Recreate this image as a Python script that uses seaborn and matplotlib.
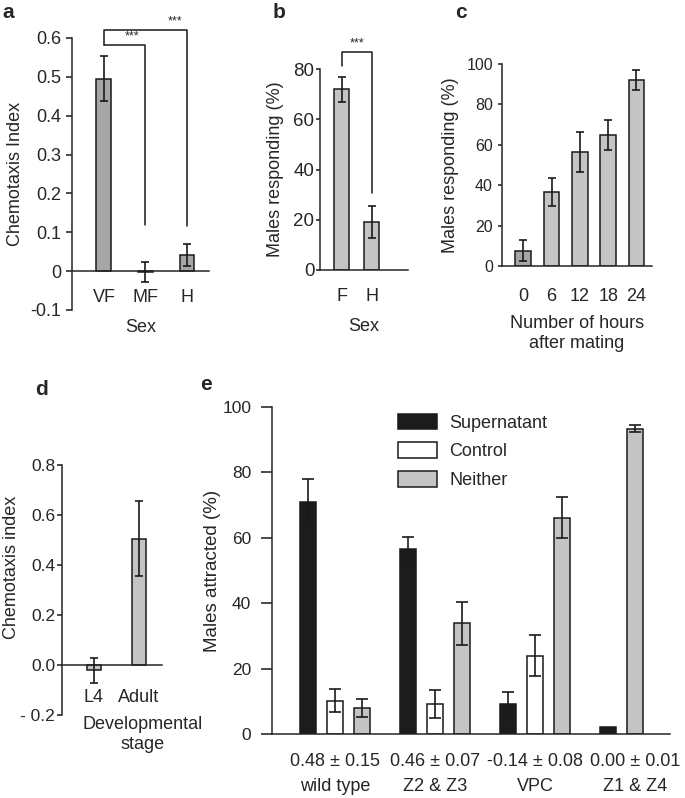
import numpy as np
import pandas as pd
import matplotlib
matplotlib.use("Agg")
import matplotlib.pyplot as plt
import seaborn as sns

# --- data ---
# a: chemotaxis index by sex
sex_a = ["VF", "MF", "H"]
ci_a = [0.495, -0.003, 0.042]
ci_a_err = [0.058, 0.026, 0.028]

# b: males responding by sex
sex_b = ["F", "H"]
resp_b = [72, 19]
resp_b_err = [5, 6.3]

# c: males responding vs hours after mating
hours_c = ["0", "6", "12", "18", "24"]
resp_c = [7.5, 36.5, 56.5, 65, 92]
resp_c_err = [5.2, 7, 10, 7.5, 4.8]

# d: chemotaxis index by developmental stage
stage_d = ["L4", "Adult"]
ci_d = [-0.02, 0.505]
ci_d_err = [0.05, 0.15]

# e: males attracted by ablation
groups_e = ["wild type", "Z2 & Z3", "VPC", "Z1 & Z4"]
ci_e = ["0.48 ± 0.15", "0.46 ± 0.07", "-0.14 ± 0.08", "0.00 ± 0.01"]
choices_e = ["Supernatant", "Control", "Neither"]
supernatant_e = [71, 56.7, 9.2, 2]
supernatant_err = [7, 3.5, 3.6, 0]
control_e = [10.2, 9.2, 24, np.nan]
control_err = [3.6, 4.3, 6.3, np.nan]
neither_e = [7.9, 33.8, 66.2, 93.4]
neither_err = [2.7, 6.5, 6.3, 1]

sns.set_style("ticks")
plt.rcParams["font.family"] = ["Liberation Sans", "DejaVu Sans"]
plt.rcParams["axes.linewidth"] = 1.1

DARK = "#a6a6a6"
LIGHT = "#c4c4c4"
EDGE = "#1a1a1a"

W, H = 685, 798
fig = plt.figure(figsize=(W / 100, H / 100), dpi=100)


def px_axes(left, top, right, bottom):
    return fig.add_axes([left / W, 1 - bottom / H, (right - left) / W, (bottom - top) / H])


def style(ax, ylim, yticks, yfont=13, xpad=13, ypad=3.5, ticklen=4):
    ax.set_ylim(*ylim)
    ax.set_yticks(yticks)
    ax.spines["top"].set_visible(False)
    ax.spines["right"].set_visible(False)
    ax.tick_params(axis="y", direction="out", length=ticklen, width=1.1,
                   labelsize=yfont, color=EDGE, pad=ypad)
    ax.tick_params(axis="x", length=0, labelsize=13, pad=xpad)


def errbars(ax, x, y, e, cap=3):
    ax.errorbar(x, y, yerr=e, fmt="none", ecolor=EDGE, elinewidth=1.2,
                capsize=cap, capthick=1.2, zorder=5)


# ---------------- a ----------------
ax = px_axes(72, 38, 209, 310)
sns.barplot(x=sex_a, y=ci_a, color=DARK, edgecolor=EDGE, linewidth=1.1,
            width=0.36, saturation=1, ax=ax)
errbars(ax, range(len(sex_a)), ci_a, ci_a_err)
style(ax, (-0.1, 0.6), np.arange(-0.1, 0.61, 0.1))
ax.set_yticklabels(["-0.1", "0", "0.1", "0.2", "0.3", "0.4", "0.5", "0.6"])
ax.spines["bottom"].set_position(("data", 0))
ax.set_xlim(-0.77, 2.53)
ax.set_xlabel("Sex", fontsize=13, labelpad=9)
ax.set_ylabel("Chemotaxis Index", fontsize=13, labelpad=5)
ax.plot([0, 0, 2, 2], [0.582, 0.62, 0.62, 0.115], color=EDGE, lw=1.1, clip_on=False)
ax.plot([0, 1, 1], [0.582, 0.582, 0.12], color=EDGE, lw=1.1, clip_on=False)
ax.text(1.71, 0.643, "***", ha="center", va="center", fontsize=9)
ax.text(0.67, 0.603, "***", ha="center", va="center", fontsize=9)

# ---------------- b ----------------
ax = px_axes(320, 69, 408, 270)
sns.barplot(x=sex_b, y=resp_b, color=LIGHT, edgecolor=EDGE, linewidth=1.1,
            width=0.5, saturation=1, ax=ax)
errbars(ax, range(len(sex_b)), resp_b, resp_b_err)
style(ax, (0, 80), [0, 20, 40, 60, 80], yfont=13.5, ypad=1, ticklen=3)
ax.set_xlim(-0.73, 2.2)
ax.set_xlabel("Sex", fontsize=13, labelpad=9)
ax.set_ylabel("Males responding (%)", fontsize=13, labelpad=7)
ax.plot([0, 0, 1, 1], [81, 86.7, 86.7, 30.6], color=EDGE, lw=1.1, clip_on=False)
ax.text(0.5, 90, "***", ha="center", va="center", fontsize=9)

# ---------------- c ----------------
ax = px_axes(502, 64, 652, 266)
sns.barplot(x=hours_c, y=resp_c, hue=hours_c, palette=[DARK] + [LIGHT] * 4,
            edgecolor=EDGE, linewidth=1.1, width=0.56, saturation=1,
            legend=False, ax=ax)
errbars(ax, range(len(hours_c)), resp_c, resp_c_err)
style(ax, (0, 100), [0, 20, 40, 60, 80, 100], yfont=11.5, xpad=16, ticklen=3)
ax.set_xlim(-0.75, 4.55)
ax.set_xlabel("Number of hours\nafter mating", fontsize=13, labelpad=7)
ax.set_ylabel("Males responding (%)", fontsize=13, labelpad=5)

# ---------------- d ----------------
ax = px_axes(62, 465, 162, 715)
sns.barplot(x=stage_d, y=ci_d, color=LIGHT, edgecolor=EDGE, linewidth=1.1,
            width=0.33, saturation=1, ax=ax)
errbars(ax, range(len(stage_d)), ci_d, ci_d_err)
style(ax, (-0.2, 0.8), [-0.2, 0, 0.2, 0.4, 0.6, 0.8], yfont=12.5, xpad=17,
      ypad=1.5, ticklen=3.5)
ax.set_yticklabels(["- 0.2", "0.0", "0.2", "0.4", "0.6", "0.8"])
ax.spines["bottom"].set_position(("data", 0))
ax.set_xlim(-0.71, 1.51)
ax.set_xlabel("Developmental\nstage", fontsize=13)
ax.xaxis.set_label_coords(0.81, -0.005)
ax.set_ylabel("Chemotaxis index", fontsize=13)
ax.yaxis.set_label_coords(-0.42, 0.592)

# ---------------- e ----------------
rows = []
for g in range(len(groups_e)):
    vals = [supernatant_e[g], control_e[g], neither_e[g]]
    errs = [supernatant_err[g], control_err[g], neither_err[g]]
    present = [(c, v, e) for c, v, e in zip(choices_e, vals, errs) if not np.isnan(v)]
    for k, (c, v, e) in enumerate(present):
        rows.append({"pos": g * 3.7 + k - 1, "choice": c, "value": v, "err": e})
df_e = pd.DataFrame(rows)

ax = px_axes(272, 407, 670, 734)
sns.barplot(data=df_e, x="pos", y="value", hue="choice", hue_order=choices_e,
            palette=["#1c1c1c", "white", LIGHT], native_scale=True, dodge=False,
            width=0.6, edgecolor=EDGE, linewidth=1.1, saturation=1, ax=ax)
with_err = df_e[df_e["err"] > 0]
errbars(ax, with_err["pos"], with_err["value"], with_err["err"], cap=4)
style(ax, (0, 100), [0, 20, 40, 60, 80, 100], yfont=12.5, xpad=14, ypad=7, ticklen=8)
ax.set_xlim(-2.33, 12.4)
ax.set_xticks([g * 3.7 for g in range(len(groups_e))],
              [f"{c}\n{g}" for c, g in zip(ci_e, groups_e)])
plt.setp(ax.get_xticklabels(), linespacing=1.6)
ax.set_xlabel("")
ax.set_ylabel("Males attracted (%)", fontsize=13.5, labelpad=1)
sns.move_legend(ax, "upper left", bbox_to_anchor=(0.317, 0.98), frameon=False,
                title=None, handlelength=2.15, handleheight=0.95, labelspacing=0.6,
                handletextpad=0.7, borderaxespad=0, borderpad=0, fontsize=13)

# panel letters
for letter, x, y in [("a", 2, 18), ("b", 273, 18), ("c", 455, 18), ("d", 35, 395), ("e", 200, 390)]:
    fig.text(x / W, 1 - y / H, letter, fontsize=15, fontweight="bold", va="baseline")

fig.savefig("out.png", dpi=100)
